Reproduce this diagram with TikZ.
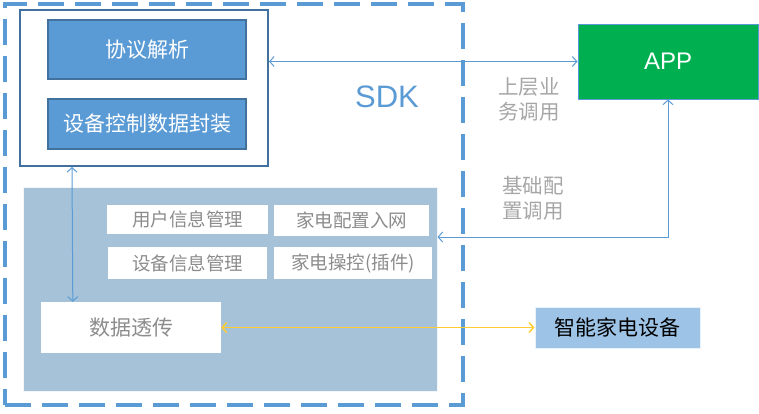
\documentclass[tikz,border=0pt]{standalone}
\usepackage{xcolor}
\usepackage{fontspec}
\setmainfont{Noto Sans CJK SC}
\newfontfamily\latinfont{Liberation Sans}
\usepackage{tikz}
\usetikzlibrary{arrows.meta, positioning}

\definecolor{sdkblue}{HTML}{5B9BD5}
\definecolor{darkblue}{HTML}{41719C}
\definecolor{panelblue}{HTML}{A5C2D8}
\definecolor{appgreen}{HTML}{00B050}
\definecolor{devblue}{HTML}{9DC3E6}
\definecolor{txtgray}{HTML}{8C8C8C}
\definecolor{notegray}{HTML}{A6A6A6}
\definecolor{linkyellow}{HTML}{FFCC33}

\begin{document}
\begin{tikzpicture}[
    x=1pt, y=-1pt,
    frame/.style={rectangle, draw=sdkblue, line width=3.5pt, dash pattern=on 26pt off 11pt},
    core/.style={rectangle, draw=darkblue, fill=white, line width=2pt},
    bluebox/.style={rectangle, draw=darkblue, fill=sdkblue, line width=2pt, text=white, font=\fontsize{21}{24}\selectfont},
    panel/.style={rectangle, draw=white!85!panelblue, fill=panelblue, line width=1pt},
    whitebox/.style={rectangle, fill=white, text=txtgray, font=\fontsize{18.5}{22}\selectfont},
    note/.style={text=notegray, align=center, font=\fontsize{20.5}{25}\selectfont},
    link/.style={{Straight Barb[length=4.5pt,width=10pt]}-{Straight Barb[length=4.5pt,width=10pt]}, draw=sdkblue, line width=1pt},
    yellowlink/.style={link, draw=linkyellow, line width=1.5pt}
]
\useasboundingbox (0,0) rectangle (759,413);

% ==========================================
% SDK
% ==========================================
\node[frame, minimum width=458, minimum height=401] (sdk) at (234,204.5) {};
\node[text=sdkblue, font=\latinfont\fontsize{31}{36}\selectfont] (sdklabel) at (387,97) {SDK};

\node[core, minimum width=248, minimum height=156] (core) at (144,88) {};
\node[bluebox, minimum width=198, minimum height=59] (proto) at (147,49.5) {协议解析};
\node[bluebox, minimum width=198, minimum height=50] (pack) at (147,124) {设备控制数据封装};

\node[panel, minimum width=414, minimum height=204] (panel) at (230,289) {};
\node[whitebox, minimum width=161, minimum height=29] (user) at (187.5,219.5) {用户信息管理};
\node[whitebox, minimum width=155, minimum height=31] (netcfg) at (351.5,220.5) {家电配置入网};
\node[whitebox, minimum width=159, minimum height=32] (devinfo) at (187.5,263) {设备信息管理};
\node[whitebox, minimum width=158, minimum height=32] (ctrl) at (353,263) {家电操控(插件)};
\node[whitebox, minimum width=180, minimum height=51, font=\fontsize{21}{24}\selectfont] (passthru) at (131,327.5) {数据透传};

% ==========================================
% APP / 设备
% ==========================================
\node[rectangle, draw=sdkblue, fill=appgreen, line width=1pt, minimum width=180, minimum height=75,
      text=white, font=\latinfont\fontsize{24}{28}\selectfont] (app) at (668,61.5) {APP};
\node[rectangle, draw=white!80!devblue, fill=devblue, line width=1pt, minimum width=165, minimum height=41,
      font=\fontsize{21}{24}\selectfont] (device) at (617.5,327.5) {智能家电设备};

\node[note] (upper) at (529,99) {上层业\\务调用};
\node[note] (basic) at (533,198) {基础配\\置调用};

% Conexiones
\draw[link] (core.east |- app.west) -- (app.west);
\draw[link] ([xshift=53]core.south west) -- ([xshift=32]passthru.north west);
\draw[link] (app.south) |- ([yshift=52]panel.east);
\draw[yellowlink] (passthru.east) -- (device.west);

\end{tikzpicture}
\end{document}
